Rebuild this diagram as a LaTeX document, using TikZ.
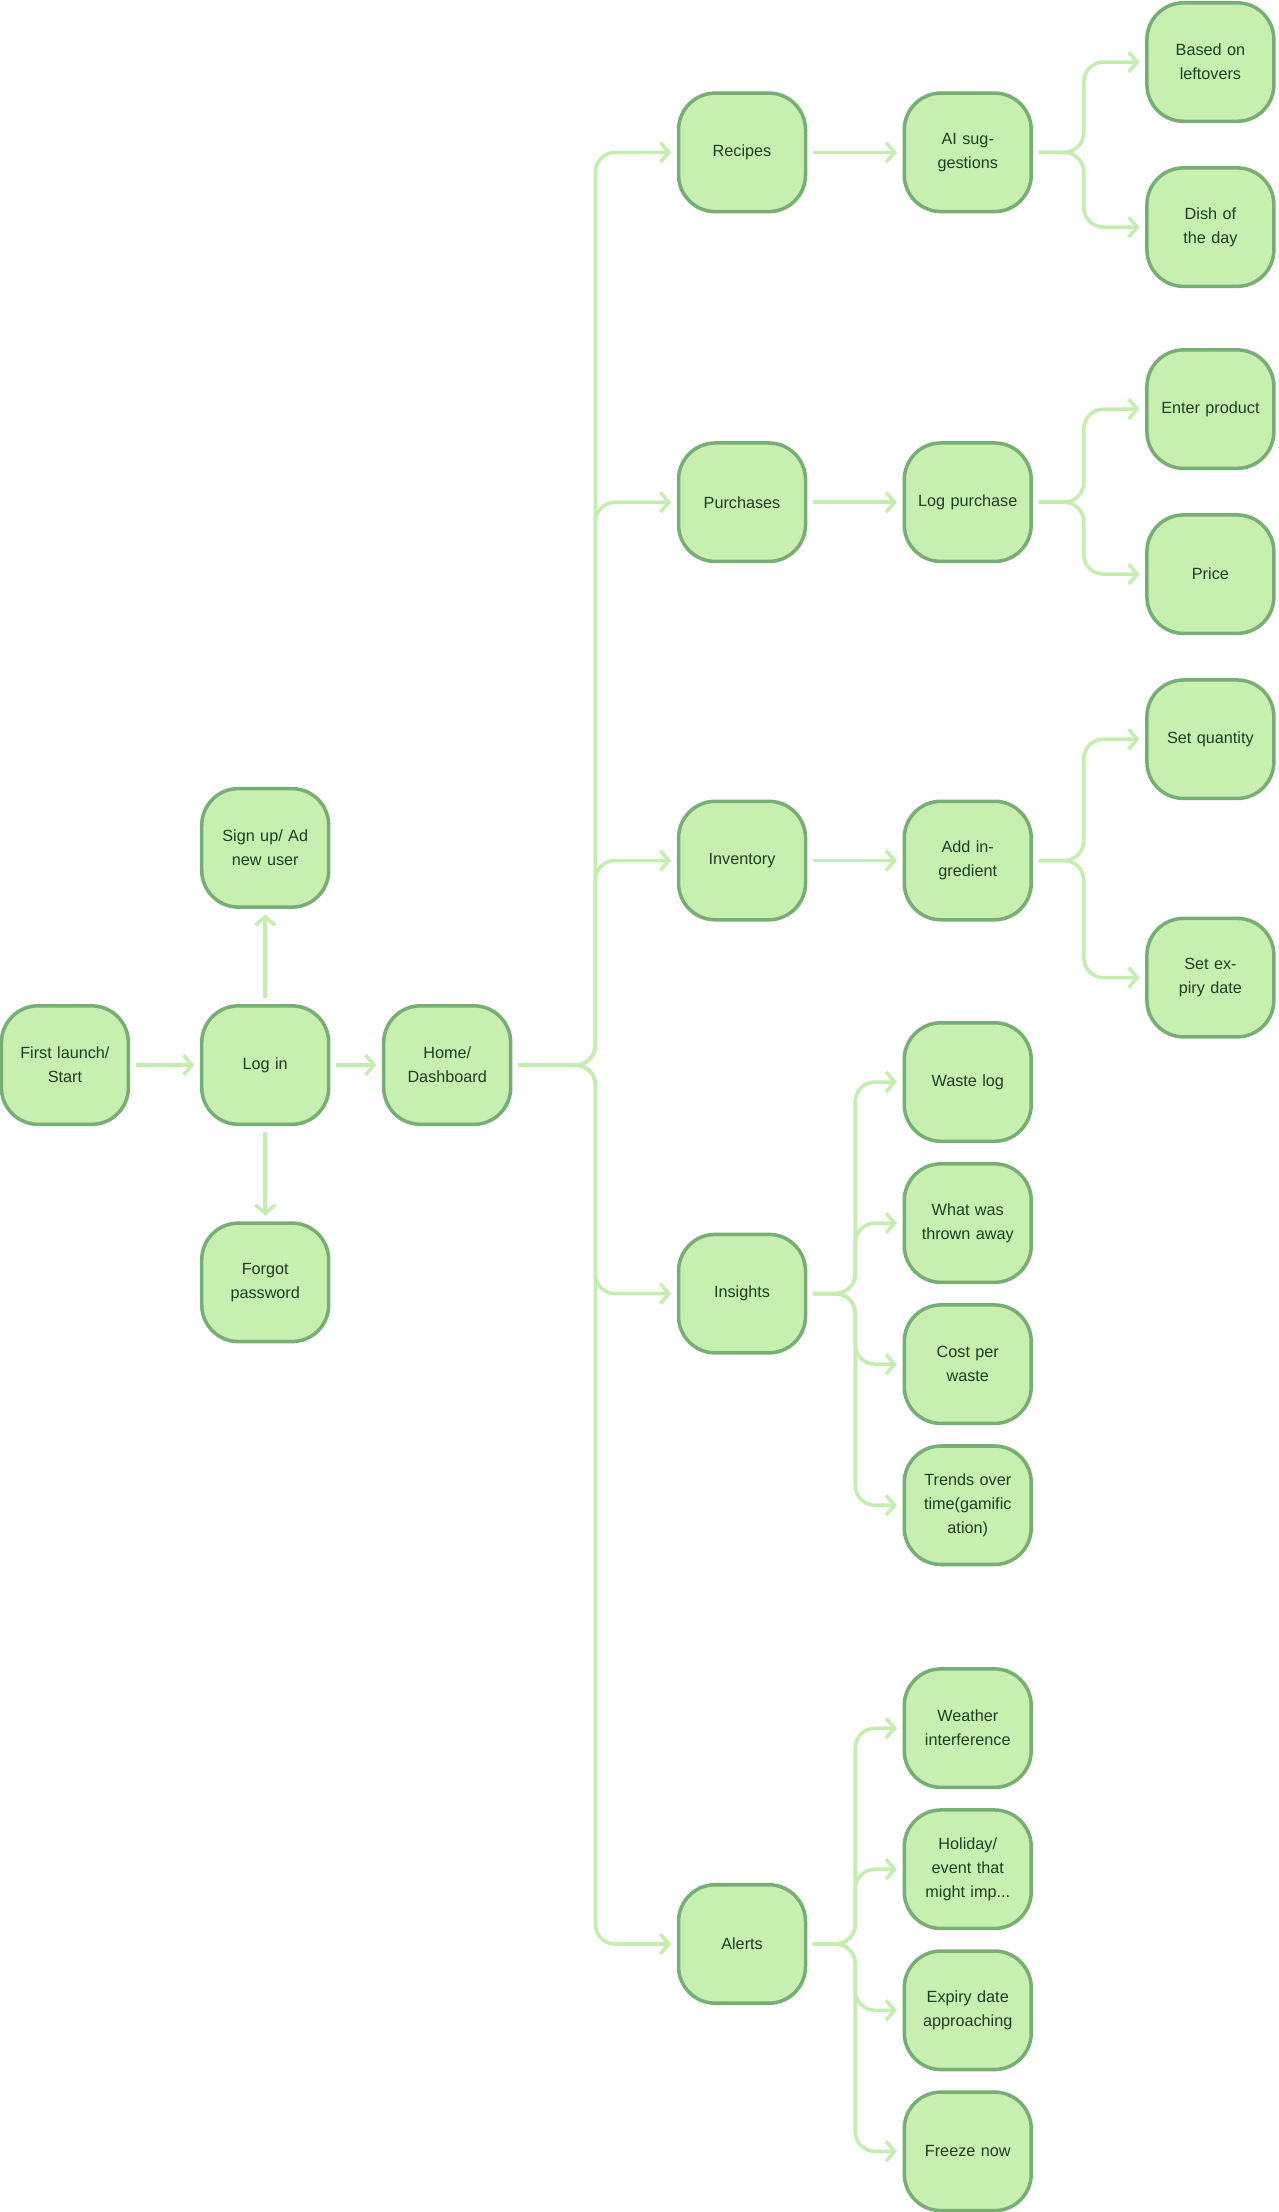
\documentclass[tikz,border=0pt]{standalone}
\usepackage{fontspec}
\setmainfont{Liberation Sans}
\usetikzlibrary{arrows.meta}
\definecolor{nfill}{HTML}{C6EFB0}
\definecolor{ndraw}{HTML}{78AE74}
\definecolor{ntext}{HTML}{1E3F22}
\definecolor{conn}{HTML}{C4EDAE}
\begin{document}
\begin{tikzpicture}[x=1pt,y=-1pt,
  box/.style={draw=ndraw,fill=nfill,line width=2.5pt,rounded corners=26pt,
    minimum width=90pt,minimum height=84pt,text width=72pt,align=center,
    text=ntext,font=\fontsize{11.5}{17}\selectfont},
  conn/.style={draw=conn,line width=2.5pt,rounded corners=14pt,
    -{Straight Barb[length=6pt,width=14pt,line width=2.5pt]},shorten >=4pt,shorten <=4pt}]
\useasboundingbox (0,0) rectangle (906,1568);
\node[box] (first) at (46,755) {First launch/ Start};
\node[box] (login) at (188,755) {Log in};
\node[box] (signup) at (188,601) {Sign up/ Ad new user};
\node[box] (forgot) at (188,909) {Forgot password};
\node[box] (home) at (317,755) {Home/ Dashboard};
\node[box] (recipes) at (526,108) {Recipes};
\node[box] (purch) at (526,356) {Purchases};
\node[box] (inv) at (526,610) {Inventory};
\node[box] (ins) at (526,917) {Insights};
\node[box] (alerts) at (526,1378) {Alerts};
\node[box] (ai) at (686,108) {AI suggestions};
\node[box] (logp) at (686,356) {Log purchase};
\node[box] (addi) at (686,610) {Add ingredient};
\node[box] (left) at (858,44) {Based on leftovers};
\node[box] (dish) at (858,161) {Dish of the day};
\node[box] (enter) at (858,290) {Enter product};
\node[box] (price) at (858,407) {Price};
\node[box] (setq) at (858,524) {Set quantity};
\node[box] (setexp) at (858,693) {Set expiry date};
\node[box] (wlog) at (686,767) {Waste log};
\node[box] (thrown) at (686,867) {What was thrown away};
\node[box] (cost) at (686,967) {Cost per waste};
\node[box] (trends) at (686,1067) {Trends over time(gamific ation)};
\node[box] (weather) at (686,1225) {Weather interference};
\node[box] (holiday) at (686,1325) {Holiday/ event that might imp...};
\node[box] (expiry) at (686,1425) {Expiry date approaching};
\node[box] (freeze) at (686,1525) {Freeze now};
\draw[conn] (first) -- (login);
\draw[conn] (login) -- (home);
\draw[conn] (login) -- (signup);
\draw[conn] (login) -- (forgot);
\foreach \t in {recipes,purch,inv,ins,alerts}
  \draw[conn] (home.east) -- (422,755) |- (\t.west);
\draw[conn] (recipes) -- (ai);
\draw[conn] (purch) -- (logp);
\draw[conn] (inv) -- (addi);
\foreach \s/\t in {ai/left,ai/dish,logp/enter,logp/price,addi/setq,addi/setexp}
  \draw[conn] (\s.east) -- ++(36,0) |- (\t.west);
\foreach \t in {wlog,thrown,cost,trends}
  \draw[conn] (ins.east) -- ++(34,0) |- (\t.west);
\foreach \t in {weather,holiday,expiry,freeze}
  \draw[conn] (alerts.east) -- ++(34,0) |- (\t.west);
\end{tikzpicture}
\end{document}
